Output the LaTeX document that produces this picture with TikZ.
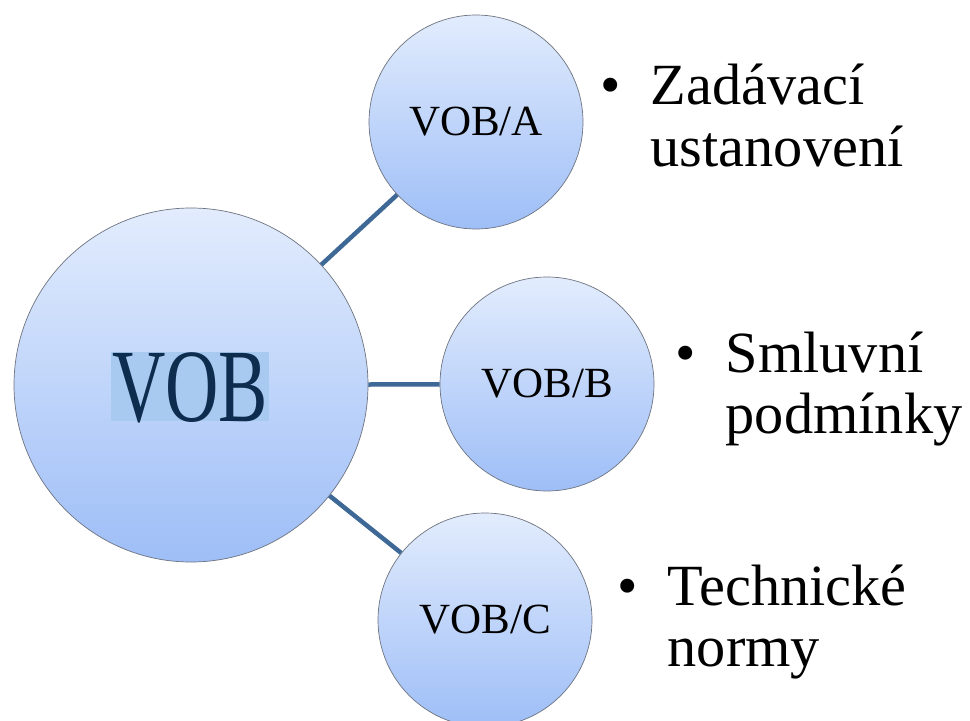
\documentclass[tikz,border=0pt]{standalone}
\usepackage{fontspec}
\usepackage{graphicx}
\setmainfont{Liberation Serif}
\definecolor{cloudtop}{RGB}{226, 236, 253}
\definecolor{cloudbottom}{RGB}{158, 190, 247}
\definecolor{rimgray}{RGB}{110, 116, 128}
\definecolor{steelline}{RGB}{62, 104, 150}
\definecolor{navytext}{RGB}{14, 44, 78}
\definecolor{marker}{RGB}{168, 202, 240}

\tikzset{
    bubble/.style   = {circle, draw=rimgray, line width=0.5pt,
                       top color=cloudtop, bottom color=cloudbottom,
                       inner sep=0pt, minimum size=5.35cm,
                       font=\fontsize{30.6pt}{34pt}\selectfont},
    markbox/.style  = {fill=marker, text=navytext, inner xsep=1pt, inner ysep=0pt,
                       text height=1.74cm, text depth=0pt,
                       font=\fontsize{74pt}{80pt}\selectfont},
    link/.style     = {steelline, line width=3.2pt},
    itemtext/.style = {inner sep=0pt, anchor=base west,
                       font=\fontsize{41.5pt}{43.6pt}\selectfont},
}

\begin{document}
\begin{tikzpicture}
            % Frame to fix the page
            \useasboundingbox[fill=white]                                     (0.00, 0.00) rectangle (24.25, 18.00);
            % Main circle
            \node[bubble, minimum size=8.85cm] (vob)  at ( 4.775, 8.375) {};
            \node[markbox]                     (vobtext) at ( 4.750, 8.338) {\scalebox{0.71}[1]{VOB}};
            % Part circles
            \node[bubble]                      (voba) at (11.900,14.950) {VOB/A};
            \node[bubble]                      (vobb) at (13.675, 8.400) {VOB/B};
            \node[bubble]                      (vobc) at (12.125, 2.500) {VOB/C};
            % Links
            \draw[link] (vob) -- (voba);
            \draw[link] (vob) -- (vobb);
            \draw[link] (vob) -- (vobc);
            % Bullet texts
            \node[itemtext] (zadavaci)  at (15.000,15.375)
                 {\textbullet\hspace{0.75cm}\begin{tabular}[t]{@{}l@{}}Zadávací\\ustanovení\end{tabular}};
            \node[itemtext] (smluvni)   at (16.875, 8.700)
                 {\textbullet\hspace{0.75cm}\begin{tabular}[t]{@{}l@{}}Smluvní\\podmínky\end{tabular}};
            \node[itemtext] (technicke) at (15.425, 2.875)
                 {\textbullet\hspace{0.75cm}\begin{tabular}[t]{@{}l@{}}Technické\\normy\end{tabular}};
        \end{tikzpicture}
\end{document}
